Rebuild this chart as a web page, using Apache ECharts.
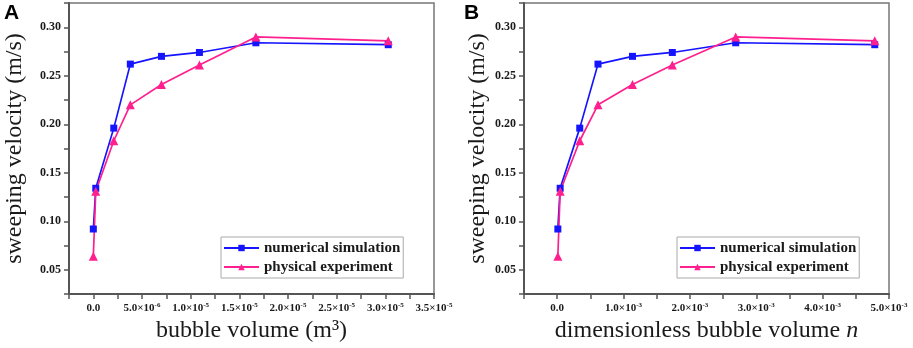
<!DOCTYPE html>
<html>
<head>
<meta charset="utf-8">
<script src="https://cdn.jsdelivr.net/npm/echarts@6/dist/echarts.min.js"></script>
<style>
  html, body { margin: 0; padding: 0; background: #fff; }
  #main { width: 913px; height: 348px; }
</style>
</head>
<body>
<div id="main"></div>
<script>
// bubble volume (m3), panel A
let volume = [0, 2.5e-7, 2.1e-6, 3.8e-6, 7.0e-6, 1.09e-5, 1.67e-5, 3.03e-5];
// dimensionless bubble volume n, panel B
let volumeN = [1e-5, 4.5e-5, 3.4e-4, 6.15e-4, 1.135e-3, 1.735e-3, 2.69e-3, 4.785e-3];
// sweeping velocity (m/s)
let numerical = [0.092, 0.134, 0.196, 0.262, 0.270, 0.274, 0.284, 0.282];
let physical = [0.064, 0.131, 0.183, 0.220, 0.241, 0.261, 0.290, 0.286];
let seriesNames = ['numerical simulation', 'physical experiment'];
let yTicks = [0.05, 0.10, 0.15, 0.20, 0.25, 0.30];

let serif = "'Liberation Serif', 'Times New Roman', serif";
let textColor = '#1a1a1a';
let blue = '#1414ff';
let pink = '#ff1f8e';

function pairs(xs, ys) {
  return xs.map((x, i) => [x, ys[i]]);
}

// labels like 5.0×10^-6 on every other tick
function sciLabel(step) {
  return function (v) {
    let k = Math.round(v / step);
    if (k < 0 || k % 2 !== 0) return '';
    if (k === 0) return '{m|0.0}';
    let val = k * step;
    let exp = Math.floor(Math.log10(val) + 1e-9);
    let mant = (val / Math.pow(10, exp)).toFixed(1);
    return '{m|' + mant + '×10}{s|' + exp + '}';
  };
}

let tickRich = {
  m: { fontFamily: serif, fontWeight: 'bold', fontSize: 11, color: textColor, lineHeight: 13 },
  s: { fontFamily: serif, fontWeight: 'bold', fontSize: 7, color: textColor, verticalAlign: 'top', lineHeight: 13 }
};

function xAxisFor(gridIndex, min, max, step, name, nameRich) {
  return {
    type: 'value',
    gridIndex: gridIndex,
    min: min,
    max: max,
    interval: step,
    name: name,
    nameLocation: 'middle',
    nameGap: 25,
    nameTextStyle: { fontFamily: serif, fontSize: 24, color: textColor, rich: nameRich },
    axisLine: { onZero: false, lineStyle: { color: '#555', width: 2 } },
    axisTick: { show: true, inside: false, length: 5, lineStyle: { color: '#555', width: 1.5 } },
    axisLabel: { formatter: sciLabel(step), margin: 8, rich: tickRich },
    splitLine: { show: false }
  };
}

function yAxisFor(gridIndex, nameGap) {
  return {
    type: 'value',
    gridIndex: gridIndex,
    min: 0.025,
    max: 0.325,
    interval: 0.025,
    name: 'sweeping velocity (m/s)',
    nameLocation: 'middle',
    nameGap: nameGap,
    nameTextStyle: { fontFamily: serif, fontSize: 24, color: textColor },
    axisLine: { onZero: false, lineStyle: { color: '#555', width: 2 } },
    axisTick: { show: true, inside: false, length: 5, lineStyle: { color: '#555', width: 1.5 } },
    axisLabel: {
      margin: 8,
      fontFamily: serif,
      fontWeight: 'bold',
      fontSize: 12,
      color: textColor,
      formatter: function (v) {
        let hit = yTicks.some(t => Math.abs(t - v) < 1e-6);
        return hit ? v.toFixed(2) : '';
      }
    },
    splitLine: { show: false }
  };
}

function lineSeries(name, idx, data, color, symbol, size) {
  return {
    name: name,
    type: 'line',
    xAxisIndex: idx,
    yAxisIndex: idx,
    data: data,
    symbol: symbol,
    symbolSize: size,
    showSymbol: true,
    lineStyle: { color: color, width: 1.7 },
    itemStyle: { color: color },
    emphasis: { disabled: true },
    animation: false
  };
}

function legendFor(left) {
  return {
    data: seriesNames,
    orient: 'vertical',
    left: left,
    top: 237,
    padding: [3, 3, 3, 2],
    itemGap: 3,
    itemWidth: 35,
    itemHeight: 8,
    borderColor: '#aaa',
    borderWidth: 1,
    textStyle: { fontFamily: serif, fontWeight: 'bold', fontSize: 15, color: textColor, lineHeight: 16 },
    selectedMode: false
  };
}

let chart = echarts.init(document.getElementById('main'), null, { renderer: 'canvas' });

let option = {
  backgroundColor: '#fff',
  animation: false,
  grid: [
    { left: 69, right: 479, top: 3, bottom: 52, show: true, borderColor: '#777', borderWidth: 1.5 },
    { left: 524, right: 24, top: 3, bottom: 52, show: true, borderColor: '#777', borderWidth: 1.5 }
  ],
  xAxis: [
    xAxisFor(0, -2.5e-6, 3.5e-5, 2.5e-6, 'bubble volume (m³)', {}),
    xAxisFor(1, -5e-4, 5e-3, 5e-4, '{t|dimensionless bubble volume }{i|n}', {
      t: { fontFamily: serif, fontSize: 24, color: textColor },
      i: { fontFamily: serif, fontSize: 24, fontStyle: 'italic', color: textColor }
    })
  ],
  yAxis: [
    yAxisFor(0, 42),
    yAxisFor(1, 34)
  ],
  legend: [legendFor(221), legendFor(677)],
  series: [
    lineSeries(seriesNames[0], 0, pairs(volume, numerical), blue, 'rect', 7),
    lineSeries(seriesNames[1], 0, pairs(volume, physical), pink, 'triangle', 9),
    lineSeries(seriesNames[0], 1, pairs(volumeN, numerical), blue, 'rect', 7),
    lineSeries(seriesNames[1], 1, pairs(volumeN, physical), pink, 'triangle', 9)
  ],
  graphic: [
    { type: 'text', left: 4, top: 3, style: { text: 'A', fontFamily: "'Liberation Sans', Arial, sans-serif", fontWeight: 'bold', fontSize: 21, fill: '#000' } },
    { type: 'text', left: 464, top: 3, style: { text: 'B', fontFamily: "'Liberation Sans', Arial, sans-serif", fontWeight: 'bold', fontSize: 21, fill: '#000' } }
  ]
};

chart.setOption(option);
</script>
</body>
</html>
